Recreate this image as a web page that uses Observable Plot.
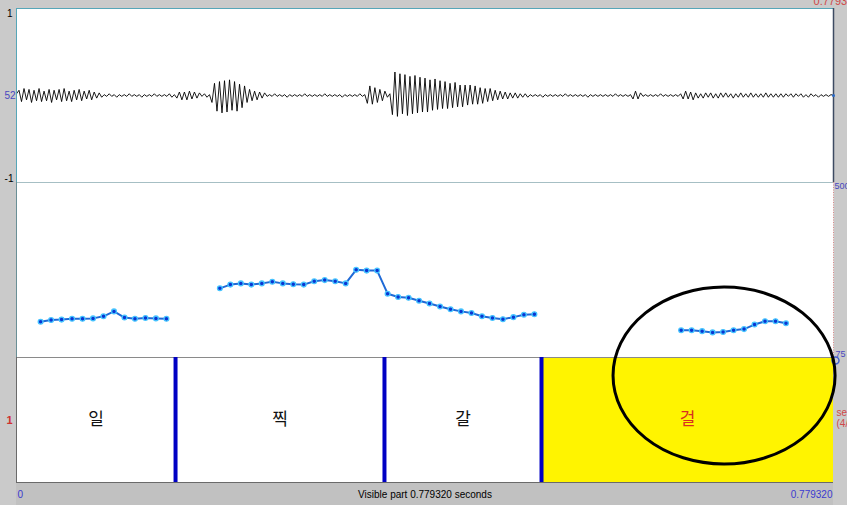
<!DOCTYPE html>
<html><head><meta charset="utf-8">
<script src="https://cdn.jsdelivr.net/npm/d3@7"></script>
<script src="https://cdn.jsdelivr.net/npm/@observablehq/plot@0.6"></script>
<style>
html,body{margin:0;padding:0;background:#cacaca;}
#chart{position:relative;width:847px;height:505px;overflow:hidden;background:#cacaca;font-family:"Liberation Sans",Arial,sans-serif;}
#chart svg{position:absolute;left:0;overflow:visible;background:transparent;}
#strip{position:absolute;left:16px;top:482px;width:817px;height:23px;background:#c1c1c1;}
</style></head><body><div id="chart"><div id="strip"></div></div>
<script>
const T = 0.77932;
// waveform samples (hundredths of full scale), evenly spaced over the visible part
const waveSamples = [
 2,6,-7,8,-5,7,-8,6,-6,8,-7,5,-6,7,-8,6,-5,7,-7,8,-6,5,-7,6,-5,7,-6,5,-4,6,-5,4,-3,3,
 -2,1,-1,2,-1,1,-2,1,-1,1,-1,2,-1,1,-1,1,-2,1,-1,1,-1,2,-1,1,-1,1,-1,2,-2,1,
 -3,4,-5,4,-5,5,-4,4,-3,3,
 -1,2,-2,1,
 -8,14,-18,16,-20,17,-19,18,-17,16,-18,13,-14,11,
 -8,7,-6,5,-5,4,-3,3,
 -1,1,-1,2,-1,1,-1,1,-2,1,-1,1,-1,1,-1,2,-1,1,-1,1,-1,1,-1,2,-1,1,-1,1,-1,1,-2,1,-1,1,-1,1,-1,2,-1,1,
 -9,11,-10,9,-8,7,-6,5,
 -2,2,
 -22,27,-24,25,-21,24,-23,22,-21,23,-20,21,-19,20,-19,18,-17,19,-16,17,-15,16,-15,14,-14,15,-13,12,-13,12,-11,12,-10,11,-10,9,
 -9,8,-7,8,-6,6,-5,5,-4,4,-4,3,-3,3,-3,2,-2,2,-2,1,
 -1,1,-1,1,-2,1,-1,1,-1,1,-1,1,-1,2,-1,1,-1,1,-1,1,-1,1,-2,1,-1,1,-1,1,-1,1,-1,1,-1,2,-1,1,-1,1,-1,1,
 -4,5,-4,3,
 -1,1,-1,1,-1,1,-1,2,-1,1,-1,1,-1,1,-1,2,
 -4,5,-4,4,-5,3,-3,2,
 -3,3,-2,3,-3,2,-3,3,-2,3,-2,2,-3,2,-2,3,-2,2,-2,3,-2,2,-2,2,-2,3,-2,2,-2,2,-2,2,-2,2,-1,2,-2,2,-1,2,-2,1,-2,2,-1,1,-2,1,-1,1,-1,1,0
];
// pitch contour (s, Hz), three voiced stretches
const pitchTimes1 = [0.023,0.033,0.043,0.053,0.063,0.073,0.083,0.093,0.103,0.113,0.123,0.133,0.143];
const pitchHz1    = [162,166,167,169,169,170,175,187,172,169,171,170,169];
const pitchTimes2 = [0.194,0.204,0.214,0.224,0.234,0.244,0.254,0.264,0.274,0.284,0.294,0.304,0.314,0.324,0.334,0.344,0.354,0.364,0.374,0.384,0.394,0.404,0.414,0.424,0.434,0.444,0.454,0.464,0.474,0.484,0.494];
const pitchHz2    = [243,252,255,252,255,259,255,253,252,260,263,260,255,288,286,286,230,222,220,213,206,199,192,187,183,175,171,168,173,179,180];
const pitchTimes3 = [0.634,0.644,0.654,0.664,0.674,0.684,0.694,0.704,0.714,0.724,0.734];
const pitchHz3    = [141,141,139,136,137,141,144,155,163,163,158];
// text tier
const intervalStarts = [0, 0.1517, 0.3510, 0.5008];
const intervalEnds   = [0.1517, 0.3510, 0.5008, T];
const intervalLabels = ["일", "찍", "갈", "걸"];
const selectedLabel = "걸";
// annotation ellipse (centre time, centre tier units, radii)
const ellipseAnno = {t: 0.6754, v: 0.852, rt: 0.1059, rv: 0.708};

const chart = document.getElementById("chart");
const common = {width: 847, marginLeft: 16, marginRight: 14, style: {background: "transparent", overflow: "visible", fontFamily: "Liberation Sans, Arial, sans-serif"}};

const wave = waveSamples.map((v, i) => ({t: i * T / (waveSamples.length - 1), v: v / 100}));
const A = Plot.plot({
  ...common, height: 182, marginTop: 8, marginBottom: 0,
  x: {domain: [0, T], axis: null}, y: {domain: [-1, 1], axis: null},
  marks: [
    Plot.frame({fill: "white", stroke: null}),
    Plot.line(wave, {x: "t", y: "v", stroke: "#000", strokeWidth: 0.9}),
    Plot.ruleY([1], {stroke: "#56a6b8"}),
    Plot.ruleY([-1], {stroke: "#4d7f88"}),
    Plot.ruleX([0], {stroke: "#56a6b8"}),
    Plot.ruleX([T], {stroke: "#3d4b62", strokeWidth: 1.5}),
    Plot.dot([{t: T, v: 0}], {x: "t", y: "v", r: 1.5, fill: "#2a6ac8"}),
    Plot.text([{t: 0, v: 1, s: "1"}], {x: "t", y: "v", text: "s", textAnchor: "end", lineAnchor: "top", dx: -4, dy: 1, fontSize: 10, fill: "#000"}),
    Plot.text([{t: 0, v: -1, s: "-1"}], {x: "t", y: "v", text: "s", textAnchor: "end", lineAnchor: "bottom", dx: -3, dy: -1, fontSize: 10, fill: "#000"}),
    Plot.text([{t: 0, v: 0, s: "52"}], {x: "t", y: "v", text: "s", textAnchor: "end", dx: -1, fontSize: 10, fill: "#4848c0"}),
    Plot.text([{t: T, v: 1, s: "0.779320"}], {x: "t", y: "v", text: "s", textAnchor: "middle", lineAnchor: "bottom", dy: -4, dx: 3, fontSize: 11, fill: "#d04848"})
  ]
});
A.style.top = "0px";
chart.appendChild(A);

const pitch = [
  ...pitchTimes1.map((t, i) => ({t, hz: pitchHz1[i], seg: 1})),
  ...pitchTimes2.map((t, i) => ({t, hz: pitchHz2[i], seg: 2})),
  ...pitchTimes3.map((t, i) => ({t, hz: pitchHz3[i], seg: 3}))
];
const B = Plot.plot({
  ...common, height: 175, marginTop: 0, marginBottom: 0,
  x: {domain: [0, T], axis: null}, y: {domain: [75, 500], axis: null},
  marks: [
    Plot.frame({fill: "white", stroke: null}),
    Plot.ruleX([0], {stroke: "#6a8f96"}),
    Plot.ruleX([T], {stroke: "#d88a8a", strokeDasharray: "1,1.5"}),
    Plot.line(pitch, {x: "t", y: "hz", z: "seg", stroke: "#1f6ad6", strokeWidth: 2}),
    Plot.dot(pitch, {x: "t", y: "hz", r: 2.4, fill: "#0a34d2", stroke: "#45c4ff", strokeWidth: 1.3}),
    Plot.text([{t: T, hz: 500, s: "500"}], {x: "t", y: "hz", text: "s", textAnchor: "start", lineAnchor: "top", dx: 1, dy: 0, fontSize: 9, fill: "#4848c0"}),
    Plot.text([{t: T, hz: 75, s: "75"}], {x: "t", y: "hz", text: "s", textAnchor: "start", lineAnchor: "bottom", dx: 2, dy: -1, fontSize: 9, fill: "#4848c0"})
  ]
});
B.style.top = "182px";
chart.appendChild(B);

const intervals = intervalLabels.map((label, i) => ({start: intervalStarts[i], end: intervalEnds[i], label}));
function ellipseMark(index, scales) {
  const a = ellipseAnno;
  const cx = scales.x(a.t), cy = scales.y(a.v);
  const rx = scales.x(a.t + a.rt) - cx, ry = scales.y(a.v - a.rv) - cy;
  return d3.create("svg:ellipse").attr("cx", cx).attr("cy", cy).attr("rx", Math.abs(rx)).attr("ry", Math.abs(ry))
    .attr("fill", "none").attr("stroke", "#000").attr("stroke-width", 3).node();
}
const C = Plot.plot({
  ...common, height: 148, marginTop: 0, marginBottom: 23,
  x: {domain: [0, T], axis: null}, y: {domain: [0, 1], axis: null},
  marks: [
    Plot.rect(intervals, {x1: "start", x2: "end", y1: 0, y2: 1, fill: d => d.label === selectedLabel ? "#fff400" : "white"}),
    Plot.ruleY([1], {stroke: "#8a8a8a"}),
    Plot.ruleY([0], {stroke: "#6a6a6a"}),
    Plot.ruleX([0], {stroke: "#6a6a6a"}),
    Plot.ruleX(intervalStarts.slice(1), {y1: 0, y2: 1, stroke: "#0000c4", strokeWidth: 4}),
    Plot.text(intervals, {x: d => (d.start + d.end) / 2, y: 0.5, text: "label", fontSize: 17, fontFamily: "Noto Sans CJK KR", fill: d => d.label === selectedLabel ? "#d83020" : "#111"}),
    Plot.text([{t: 0, s: "1"}], {x: "t", y: () => 0.5, text: "s", textAnchor: "middle", dx: -7, fontSize: 11, fontWeight: "bold", fill: "#d03030"}),
    Plot.text([{t: T, s: "sentence\n(4/4)"}], {x: "t", y: () => 0.5, text: "s", textAnchor: "start", dx: 3, dy: -2, fontSize: 10, lineHeight: 1.15, fill: "#d04848"}),
    Plot.dot([{t: T}], {x: "t", y: () => 1, r: 3.5, dx: 2, dy: 3, stroke: "#4060d0", fill: "none"}),
    Plot.text([{t: 0, s: "0"}], {x: "t", y: () => 0, text: "s", textAnchor: "start", lineAnchor: "top", dx: 1, dy: 8, fontSize: 10, fill: "#3a3ad0"}),
    Plot.text([{t: T / 2, s: "Visible part 0.779320 seconds"}], {x: "t", y: () => 0, text: "s", textAnchor: "middle", lineAnchor: "top", dy: 8, fontSize: 10, fill: "#000"}),
    Plot.text([{t: T, s: "0.779320"}], {x: "t", y: () => 0, text: "s", textAnchor: "end", lineAnchor: "top", dx: -1, dy: 8, fontSize: 10, fill: "#3a3ad0"}),
    ellipseMark
  ]
});
C.style.top = "357px";
chart.appendChild(C);
</script></body></html>
